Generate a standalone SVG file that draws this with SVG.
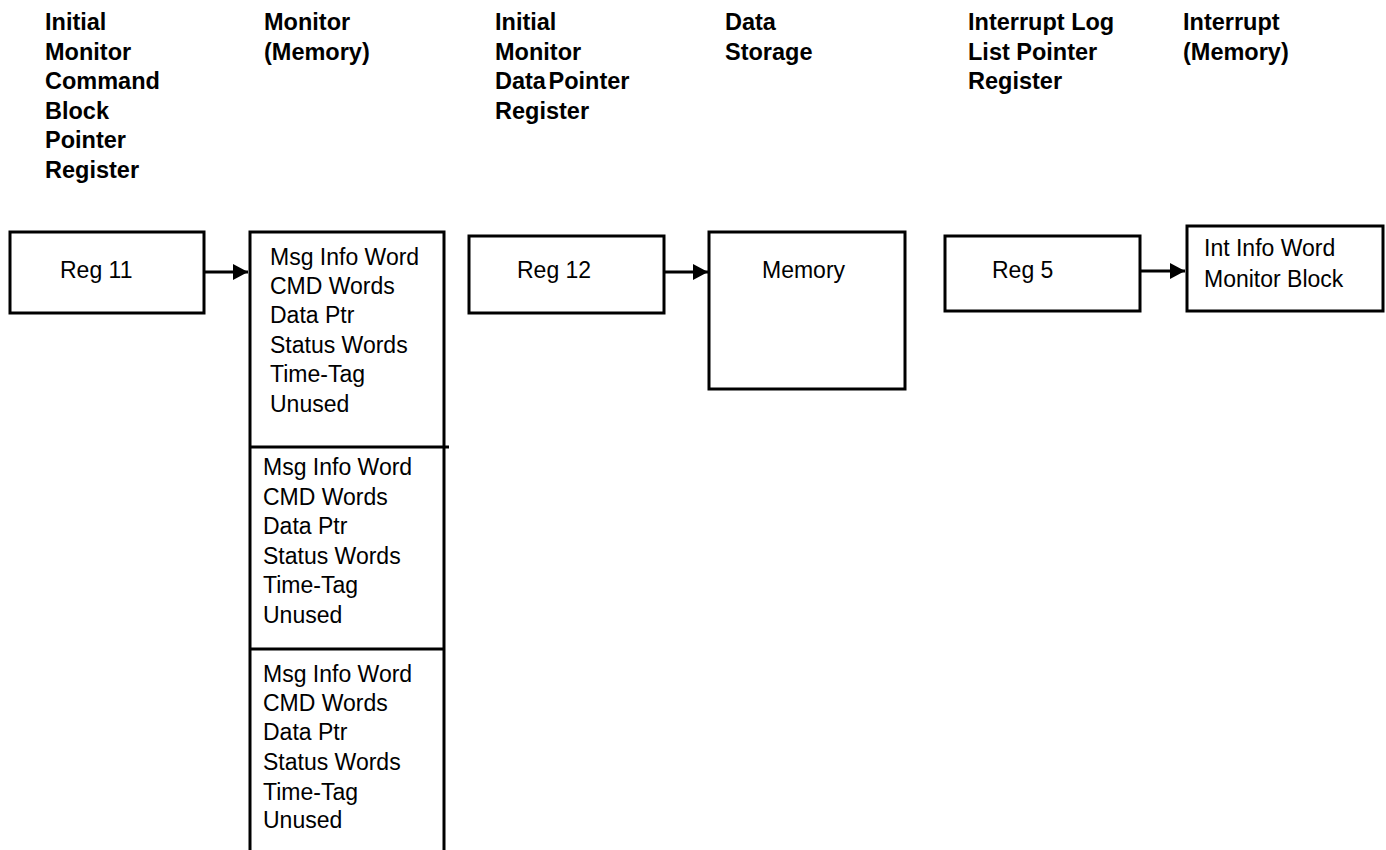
<svg xmlns="http://www.w3.org/2000/svg" width="1386" height="850" viewBox="0 0 1386 850">
<style>
.box{fill:#fff;stroke:#000;stroke-width:3}
.ln{stroke:#000;stroke-width:3;fill:none}
.hd{font-family:"Liberation Sans",Arial,sans-serif;font-weight:bold;font-size:23.5px;fill:#000}
.tx{font-family:"Liberation Sans",Arial,sans-serif;font-size:23px;fill:#000}
</style>
<defs>
<marker id="ah" markerWidth="16" markerHeight="16" refX="15" refY="8" orient="auto" markerUnits="userSpaceOnUse">
<path d="M0,0 L15,8 L0,16 Z" fill="#000"/>
</marker>
</defs>
<rect width="1386" height="850" fill="#fff"/>
<g id="headers">
<text class="hd" x="45" y="30">Initial</text>
<text class="hd" x="45" y="60">Monitor</text>
<text class="hd" x="45" y="89">Command</text>
<text class="hd" x="45" y="119">Block</text>
<text class="hd" x="45" y="148">Pointer</text>
<text class="hd" x="45" y="178">Register</text>
<text class="hd" x="264" y="30">Monitor</text>
<text class="hd" x="264" y="60">(Memory)</text>
<text class="hd" x="495" y="30">Initial</text>
<text class="hd" x="495" y="60">Monitor</text>
<text class="hd" x="495" y="89" word-spacing="-4">Data Pointer</text>
<text class="hd" x="495" y="119">Register</text>
<text class="hd" x="725" y="30">Data</text>
<text class="hd" x="725" y="60">Storage</text>
<text class="hd" x="968" y="30">Interrupt Log</text>
<text class="hd" x="968" y="60">List Pointer</text>
<text class="hd" x="968" y="89">Register</text>
<text class="hd" x="1183" y="30">Interrupt</text>
<text class="hd" x="1183" y="60">(Memory)</text>
</g>
<g id="reg11">
<rect class="box" x="10" y="232" width="194" height="81"/>
<text class="tx" x="60" y="278">Reg 11</text>
</g>
<g id="monitor">
<path class="ln" d="M250,850 V232 H444 V850"/>
<line class="ln" x1="250" y1="447" x2="449" y2="447"/>
<line class="ln" x1="250" y1="649" x2="444" y2="649"/>
<text class="tx" x="270" y="265">Msg Info Word</text>
<text class="tx" x="270" y="294">CMD Words</text>
<text class="tx" x="270" y="323">Data Ptr</text>
<text class="tx" x="270" y="353">Status Words</text>
<text class="tx" x="270" y="382">Time-Tag</text>
<text class="tx" x="270" y="412">Unused</text>
<text class="tx" x="263" y="475">Msg Info Word</text>
<text class="tx" x="263" y="504.5">CMD Words</text>
<text class="tx" x="263" y="534">Data Ptr</text>
<text class="tx" x="263" y="563.5">Status Words</text>
<text class="tx" x="263" y="593">Time-Tag</text>
<text class="tx" x="263" y="622.5">Unused</text>
<text class="tx" x="263" y="682">Msg Info Word</text>
<text class="tx" x="263" y="711">CMD Words</text>
<text class="tx" x="263" y="740">Data Ptr</text>
<text class="tx" x="263" y="770">Status Words</text>
<text class="tx" x="263" y="800">Time-Tag</text>
<text class="tx" x="263" y="828">Unused</text>
</g>
<g id="reg12">
<rect class="box" x="469" y="236" width="195" height="77"/>
<text class="tx" x="517" y="278">Reg 12</text>
</g>
<g id="memory">
<rect class="box" x="709" y="232" width="196" height="157"/>
<text class="tx" x="762" y="278">Memory</text>
</g>
<g id="reg5">
<rect class="box" x="945" y="236" width="195" height="75"/>
<text class="tx" x="992" y="278">Reg 5</text>
</g>
<g id="intmem">
<rect class="box" x="1187" y="226" width="196" height="85"/>
<text class="tx" x="1204" y="256">Int Info Word</text>
<text class="tx" x="1204" y="287">Monitor Block</text>
</g>
<g id="connectors">
<line class="ln" x1="204" y1="272" x2="248" y2="272" marker-end="url(#ah)"/>
<line class="ln" x1="664" y1="272" x2="708" y2="272" marker-end="url(#ah)"/>
<line class="ln" x1="1140" y1="271" x2="1185" y2="271" marker-end="url(#ah)"/>
</g>
</svg>
